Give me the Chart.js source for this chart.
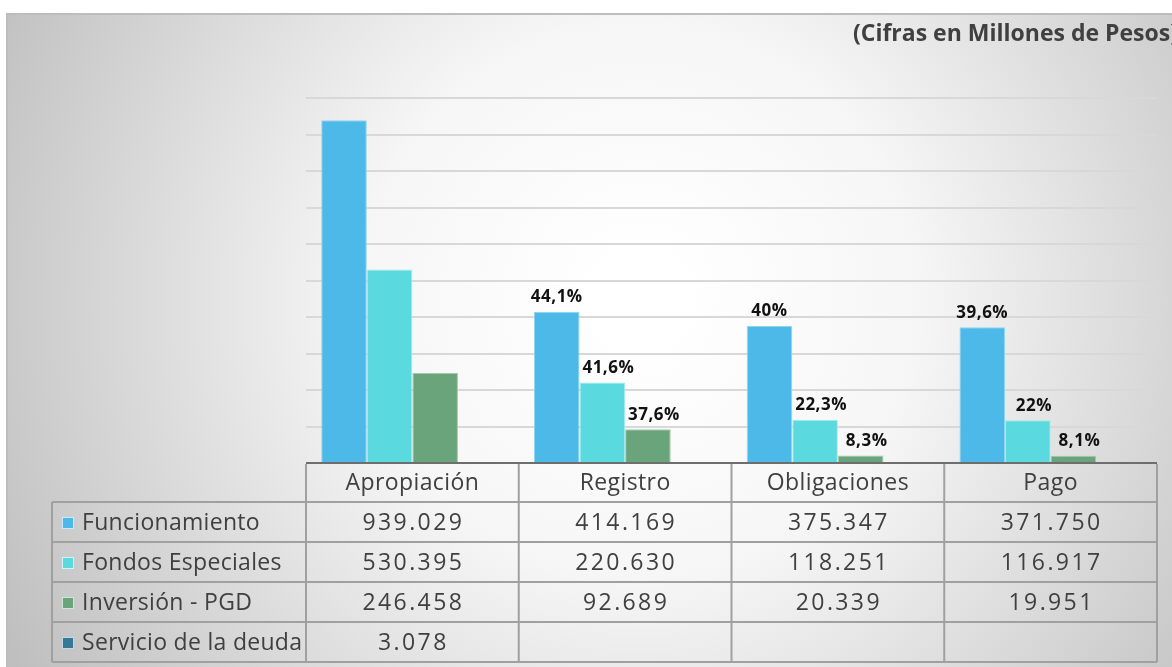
<!DOCTYPE html>
<html>
<head>
<meta charset="utf-8">
<script src="https://cdn.jsdelivr.net/npm/chart.js@4/dist/chart.umd.min.js"></script>
<style>
  html, body { margin: 0; padding: 0; background: #fff; }
  #wrap { width: 1172px; height: 667px; position: relative; }
</style>
</head>
<body>
<div id="wrap"><canvas id="grafico" width="1172" height="667"></canvas></div>
<script>
// Datos del gráfico
const categorias = ['Apropiación', 'Registro', 'Obligaciones', 'Pago'];
const funcionamiento = [939029, 414169, 375347, 371750];
const fondosEspeciales = [530395, 220630, 118251, 116917];
const inversionPGD = [246458, 92689, 20339, 19951];
const servicioDeuda = [3078, null, null, null];

// Porcentajes de ejecución sobre la apropiación
const pctFuncionamiento = ['', '44,1%', '40%', '39,6%'];
const pctFondos = ['', '41,6%', '22,3%', '22%'];
const pctInversion = ['', '37,6%', '8,3%', '8,1%'];
const pctServicio = ['', '', '', ''];

const ejeMax = 1000000;
const ejePaso = 100000;

const fuente = '"Open Sans", "Noto Sans", sans-serif';

function formatoMiles(v) {
    if (v === null || v === undefined) return '';
    return String(v).replace(/\B(?=(\d{3})+(?!\d))/g, '.');
}

const series = [
    { label: 'Funcionamiento', data: funcionamiento, pct: pctFuncionamiento, color: '#4cb9e8', borde: '#8fd5f2' },
    { label: 'Fondos Especiales', data: fondosEspeciales, pct: pctFondos, color: '#5ad9de', borde: '#a0ecee' },
    { label: 'Inversión - PGD', data: inversionPGD, pct: pctInversion, color: '#6aa47a', borde: '#a3c9ad' },
    { label: 'Servicio de la deuda', data: servicioDeuda, pct: pctServicio, color: '#347a96', borde: '#6fa6bb' }
];

// Fondo con degradado gris
const fondoPlugin = {
    id: 'fondo',
    beforeDraw(chart) {
        const ctx = chart.ctx;
        ctx.save();
        ctx.fillStyle = '#ffffff';
        ctx.fillRect(0, 0, chart.width, chart.height);
        const g = ctx.createRadialGradient(640, 300, 40, 640, 300, 720);
        g.addColorStop(0, '#ffffff');
        g.addColorStop(0.35, '#f6f6f6');
        g.addColorStop(1, '#bfbfbf');
        ctx.fillStyle = g;
        ctx.fillRect(6, 13, chart.width - 6, chart.height - 13);
        ctx.strokeStyle = '#bdbdbd';
        ctx.lineWidth = 2;
        ctx.beginPath();
        ctx.moveTo(6, 14);
        ctx.lineTo(chart.width, 14);
        ctx.moveTo(7, 13);
        ctx.lineTo(7, chart.height);
        ctx.stroke();
        ctx.restore();
    }
};

// Etiquetas de porcentaje, título y tabla de datos
const tablaPlugin = {
    id: 'tabla',
    afterDraw(chart) {
        const ctx = chart.ctx;
        const area = chart.chartArea;
        ctx.save();

        // porcentajes encima de las barras
        ctx.font = 'bold 17px ' + fuente;
        ctx.letterSpacing = '0.5px';
        ctx.fillStyle = '#111111';
        ctx.textAlign = 'center';
        ctx.textBaseline = 'bottom';
        series.forEach((s, di) => {
            const meta = chart.getDatasetMeta(di);
            meta.data.forEach((bar, i) => {
                const txt = s.pct[i];
                if (!txt) return;
                const dx = di === 0 ? 0 : 6;
                ctx.fillText(txt, bar.x + dx, bar.y - 6);
            });
        });

        // título
        ctx.font = 'bold 23px ' + fuente;
        ctx.letterSpacing = '0px';
        ctx.fillStyle = '#404040';
        ctx.textAlign = 'left';
        ctx.textBaseline = 'middle';
        ctx.fillText('(Cifras en Millones de Pesos)', 853, 34);

        // línea base
        ctx.strokeStyle = '#6e6e6e';
        ctx.lineWidth = 2;
        ctx.beginPath();
        ctx.moveTo(area.left, area.bottom);
        ctx.lineTo(area.right, area.bottom);
        ctx.stroke();

        // tabla
        const n = categorias.length;
        const ancho = (area.right - area.left) / n;
        const izq = 52;
        const top = area.bottom;
        const altoCab = 39;
        const altoFila = 40;
        const filas = series.length;
        const fondoTabla = top + altoCab + altoFila * filas;

        ctx.strokeStyle = '#a0a0a0';
        ctx.lineWidth = 2;
        ctx.beginPath();
        for (let i = 0; i <= n; i++) {
            const x = area.left + i * ancho;
            ctx.moveTo(x, top + 1);
            ctx.lineTo(x, fondoTabla);
        }
        ctx.moveTo(izq, top + altoCab);
        ctx.lineTo(izq, fondoTabla);
        for (let r = 0; r <= filas; r++) {
            const y = top + altoCab + r * altoFila;
            ctx.moveTo(izq, y);
            ctx.lineTo(area.right, y);
        }
        ctx.stroke();

        ctx.font = '23px ' + fuente;
        ctx.fillStyle = '#404040';
        ctx.textBaseline = 'middle';
        ctx.textAlign = 'center';
        ctx.letterSpacing = '0.4px';
        categorias.forEach((c, i) => {
            ctx.fillText(c, area.left + (i + 0.5) * ancho, top + altoCab / 2 + 1);
        });

        series.forEach((s, r) => {
            const yc = top + altoCab + r * altoFila + altoFila / 2 + 1;
            ctx.fillStyle = s.color;
            ctx.fillRect(62, yc - 6, 12, 12);
            ctx.strokeStyle = 'rgba(255,255,255,0.7)';
            ctx.lineWidth = 1;
            ctx.strokeRect(62.5, yc - 5.5, 11, 11);
            ctx.fillStyle = '#404040';
            ctx.textAlign = 'left';
            ctx.letterSpacing = '0.3px';
            ctx.fillText(s.label, 82, yc);
            ctx.textAlign = 'center';
            ctx.letterSpacing = '2.4px';
            s.data.forEach((v, i) => {
                ctx.fillText(formatoMiles(v), area.left + (i + 0.5) * ancho + 1, yc);
            });
        });

        ctx.restore();
    }
};

const ctx = document.getElementById('grafico').getContext('2d');
new Chart(ctx, {
    type: 'bar',
    data: {
        labels: categorias,
        datasets: series.map(s => ({
            label: s.label,
            data: s.data,
            backgroundColor: s.color,
            borderColor: s.borde,
            borderWidth: 1,
            categoryPercentage: 0.857,
            barPercentage: 1.0
        }))
    },
    options: {
        responsive: false,
        animation: false,
        layout: { padding: { left: 306, right: 15, top: 98, bottom: 204 } },
        plugins: {
            legend: { display: false },
            tooltip: { enabled: false }
        },
        scales: {
            x: {
                display: false
            },
            y: {
                min: 0,
                max: ejeMax,
                ticks: { display: false, stepSize: ejePaso },
                border: { display: false },
                grid: { color: '#d8d8d8', lineWidth: 2, drawTicks: false }
            }
        }
    },
    plugins: [fondoPlugin, tablaPlugin]
});
</script>
</body>
</html>
